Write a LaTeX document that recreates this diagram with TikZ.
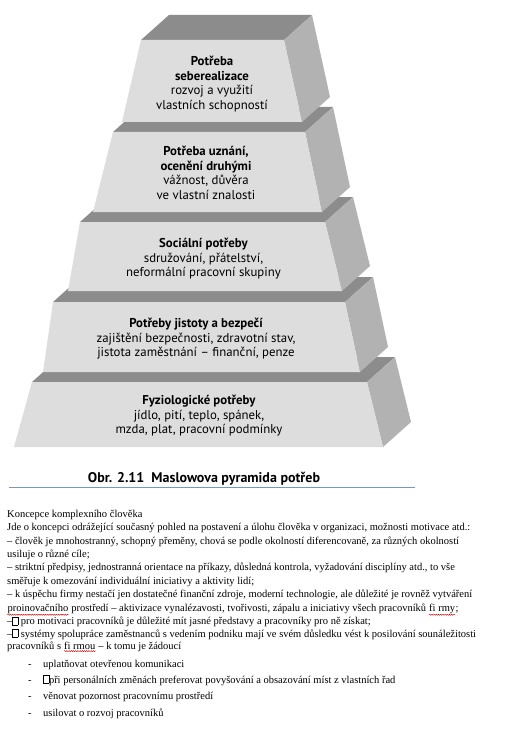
\documentclass[tikz,border=0pt]{standalone}
\usepackage{fontspec}
\setmainfont{Liberation Serif}
\newfontfamily\pyrfont{PT Sans}
\usetikzlibrary{decorations.pathmorphing}

% empty box that stands for the missing glyph
\newcommand{\tofu}{{\fboxsep=0pt\fboxrule=0.4pt\fbox{\rule{0pt}{7.5pt}\hspace{5pt}}}}
% word with the red spell-check underline
\newcommand{\wavyword}[1]{\tikz[baseline=(w.base)]{\node[inner sep=0pt] (w) {#1};
  \draw[red!85!black, line width=0.45pt, decorate, decoration={snake, amplitude=0.55pt, segment length=2.2pt}]
    ([yshift=-1.3pt]w.south west) -- ([yshift=-1.3pt]w.south east);}}

\definecolor{frontgray}{RGB}{221,221,221}
\definecolor{topgray}{RGB}{140,140,140}
\definecolor{sidegray}{RGB}{178,178,178}
\definecolor{rulecol}{RGB}{120,150,192}

\begin{document}
\begin{tikzpicture}[x=1pt, y=-1pt,
    frontface/.style={fill=frontgray},
    topface/.style={fill=topgray},
    sideface/.style={fill=sidegray},
    need/.style={align=center, inner sep=0pt, font=\pyrfont\fontsize{12.8}{14.5}\selectfont},
    caption/.style={anchor=base, inner sep=0pt, font=\pyrfont\bfseries\fontsize{14}{16}\selectfont},
    bodyline/.style={anchor=base west, inner sep=0pt, font=\fontsize{10.5}{13}\selectfont},
    dashitem/.style={bodyline}]
    \useasboundingbox[fill=white] (0,0) rectangle (522,738);

    % Pyramid blocks, drawn bottom to top (top-left/top-right/bottom-right/bottom-left x, top y, bottom y)
    \foreach \tl/\tr/\br/\bl/\yt/\yb in {32/367/383/14/382/447, 53/345/360/43/302/372,
        80/325/342/68/222/291, 113/305/322/93/132/212, 141/284/302/122/40/122} {
      \fill[topface] (\tl,\yt) -- (\tr,\yt) -- (\tr+28,\yt-25) -- (\tl+28,\yt-25) -- cycle;
      \fill[sideface] (\tr,\yt) -- (\tr+28,\yt-25) -- (\br+28,\yb-25) -- (\br,\yb) -- cycle;
      \fill[frontface] (\tl,\yt) -- (\tr,\yt) -- (\br,\yb) -- (\bl,\yb) -- cycle;
    }

    % Needs, top to bottom
    \node[need] (selfact) at (212,84) {\textbf{Potřeba}\\\textbf{seberealizace}\\rozvoj a využití\\vlastních schopností};
    \node[need] (esteem) at (206,173) {\textbf{Potřeba uznání,}\\\textbf{ocenění druhými}\\vážnost, důvěra\\ve vlastní znalosti};
    \node[need] (social) at (203.5,259) {\textbf{Sociální potřeby}\\sdružování, přátelství,\\neformální pracovní skupiny};
    \node[need] (safety) at (196,339) {\textbf{Potřeby jistoty a bezpečí}\\zajištění bezpečnosti, zdravotní stav,\\jistota zaměstnání – finanční, penze};
    \node[need] (physio) at (199,416) {\textbf{Fyziologické potřeby}\\jídlo, pití, teplo, spánek,\\mzda, plat, pracovní podmínky};

    % Caption and its rule
    \node[caption] (cap) at (204,482) {Obr. 2.11~~Maslowova pyramida potřeb};
    \coordinate (ruleL) at (9,487);
    \coordinate (ruleR) at (415,487);
    \draw[rulecol, line width=0.9pt] (ruleL) -- (ruleR);

    % Text below
    \node[bodyline] (l1) at (7,517.5) {Koncepce komplexního člověka};
    \node[bodyline] (l2) at (7,530.8) {Jde o koncepci odrážející současný pohled na postavení a úlohu člověka v organizaci, možnosti motivace atd.:};
    \node[bodyline] (l3) at (7,544.1) {– člověk je mnohostranný, schopný přeměny, chová se podle okolností diferencovaně, za různých okolností};
    \node[bodyline] (l4) at (7,557.4) {usiluje o různé cíle;};
    \node[bodyline] (l5) at (7,570.7) {– striktní předpisy, jednostranná orientace na příkazy, důsledná kontrola, vyžadování disciplíny atd., to vše};
    \node[bodyline] (l6) at (7,584.0) {směřuje k omezování individuální iniciativy a aktivity lidí;};
    \node[bodyline] (l7) at (7,597.3) {– k úspěchu firmy nestačí jen dostatečné finanční zdroje, moderní technologie, ale důležité je rovněž vytváření};
    \node[bodyline] (l8) at (7,611) {\wavyword{proinovačního} prostředí – aktivizace vynalézavosti, tvořivosti, zápalu a iniciativy všech pracovníků \wavyword{fi rmy};};
    \node[bodyline] (l9) at (7,624.5) {–\tofu\ pro motivaci pracovníků je důležité mít jasné představy a pracovníky pro ně získat;};
    \node[bodyline] (l10) at (7,637) {–\tofu\ systémy spolupráce zaměstnanců s vedením podniku mají ve svém důsledku vést k posilování sounáležitosti};
    \node[bodyline] (l11) at (7,649.5) {pracovníků s \wavyword{fi rmou} – k tomu je žádoucí};

    % Dash list
    \foreach \y/\name in {667/d1, 683/d2, 699.5/d3, 716.5/d4} {
      \node[dashitem] (\name) at (28,\y) {-};
    }
    \node[bodyline] (i1) at (43,667) {uplatňovat otevřenou komunikaci};
    \node[bodyline] (i2) at (43,683) {\tofu při personálních změnách preferovat povyšování a obsazování míst z vlastních řad};
    \node[bodyline] (i3) at (43,699.5) {věnovat pozornost pracovnímu prostředí};
    \node[bodyline] (i4) at (43,716.5) {usilovat o rozvoj pracovníků};
\end{tikzpicture}
\end{document}
